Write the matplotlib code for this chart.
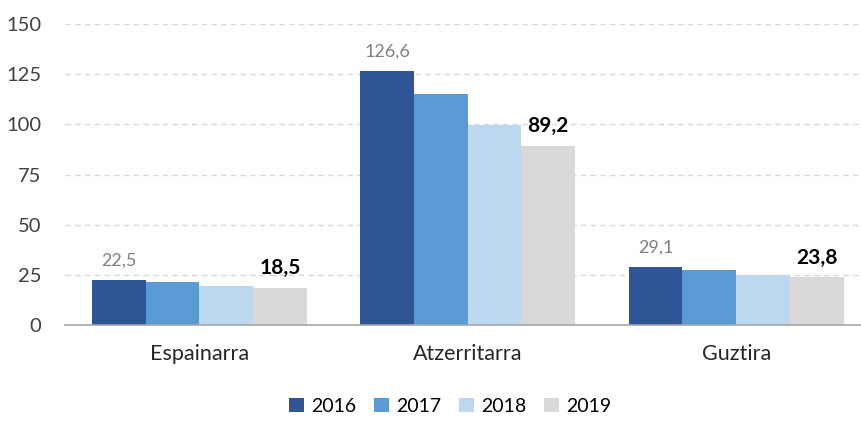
import matplotlib.pyplot as plt
import numpy as np

plt.rcParams['font.family'] = ['Lato', 'DejaVu Sans']

categories = ['Espainarra', 'Atzerritarra', 'Guztira']
years = ['2016', '2017', '2018', '2019']
values = {
    '2016': [22.5, 126.6, 29.1],
    '2017': [21.3, 115.1, 27.4],
    '2018': [19.6, 99.6, 25.1],
    '2019': [18.5, 89.2, 23.8],
}
colors = ['#2F5597', '#5B9BD5', '#BDD7EE', '#D9D9D9']

fig = plt.figure(figsize=(8.61, 4.22), dpi=100)
ax = fig.add_axes([65 / 861, 97 / 422, 796 / 861, 301 / 422])

x = np.arange(len(categories))
w = 0.2
for i, yr in enumerate(years):
    pos = x + (i - 1.5) * w
    bars = ax.bar(pos, values[yr], width=w, color=colors[i], label=yr, zorder=3)
    if yr == '2016':
        for b, v in zip(bars, values[yr]):
            ax.annotate(f'{v:.1f}'.replace('.', ','), (b.get_x() + b.get_width() / 2, v),
                        xytext=(0, 8), textcoords='offset points', ha='center', va='bottom',
                        fontsize=13, color='#808080')
    if yr == '2019':
        for b, v in zip(bars, values[yr]):
            ax.annotate(f'{v:.1f}'.replace('.', ','), (b.get_x() + b.get_width() / 2, v),
                        xytext=(0, 7), textcoords='offset points', ha='center', va='bottom',
                        fontsize=15, color='black', fontweight='bold')

ax.set_ylim(0, 150)
ax.set_xlim(-0.5, 2.465)
ax.set_yticks([0, 25, 50, 75, 100, 125, 150])
ax.set_xticks(x)
ax.set_xticklabels(categories, fontsize=15.5, color='#262626')
ax.tick_params(axis='y', labelsize=14.5, labelcolor='#404040', length=0, pad=17)
ax.tick_params(axis='x', length=0, pad=14)
ax.grid(axis='y', color='#D9D9D9', linestyle=(0, (4, 3)), linewidth=1, zorder=0)
for s in ['top', 'right', 'left']:
    ax.spines[s].set_visible(False)
ax.spines['bottom'].set_color('#A6A6A6')
ax.spines['bottom'].set_linewidth(1.2)
ax.spines['bottom'].set_zorder(4)

fig.legend(loc='lower center', bbox_to_anchor=(0.523, -0.025), ncol=4, frameon=False,
           fontsize=14, handlelength=0.75, handleheight=0.75, columnspacing=0.9,
           handletextpad=0.4)

fig.savefig('out.png', dpi=100)
